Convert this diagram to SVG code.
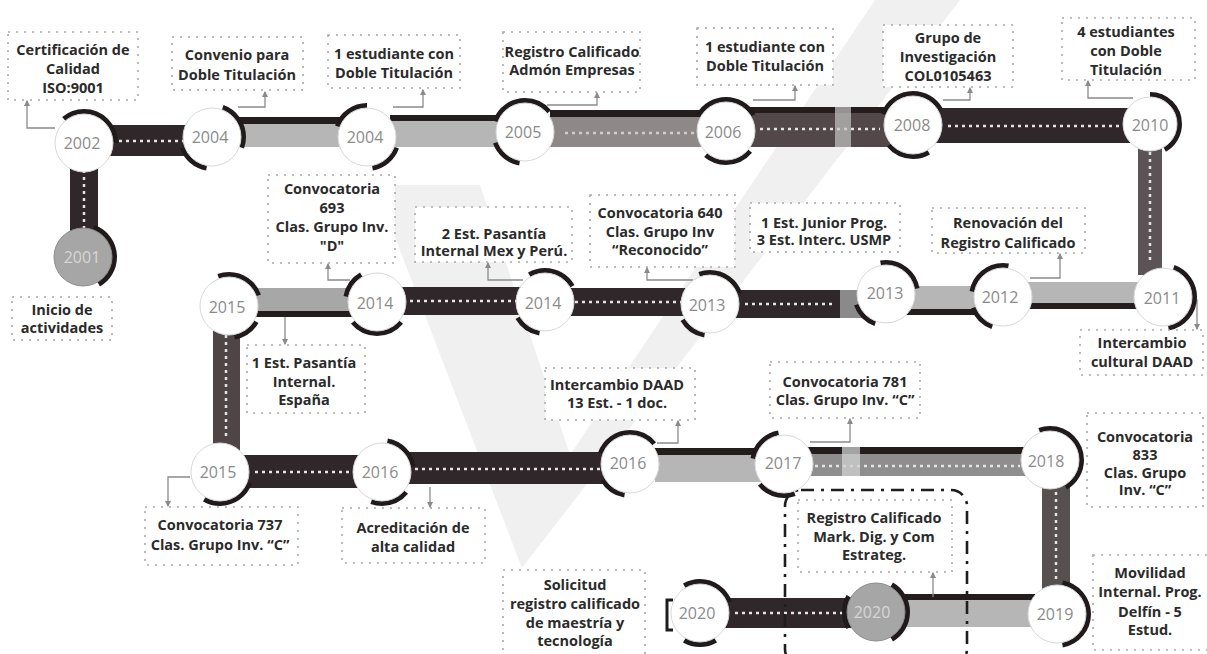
<svg xmlns="http://www.w3.org/2000/svg" width="1207" height="654" viewBox="0 0 1207 654">
<style>
.bg{fill:#ffffff}
.wm{fill:#f0f0f0}
.dark{fill:#2f2729}
.gray{fill:#b6b6b6}
.mid{fill:#8e8889}
.edge{fill:#231d1e}
.dots{stroke:#e4e4e4;stroke-width:2.5;stroke-dasharray:3 4;fill:none}
.dotsl{stroke:#cfcfcf;stroke-width:2.5;stroke-dasharray:3 4;fill:none}
.arc{fill:none;stroke:#201a1b;stroke-width:6}
.disc{fill:#ffffff;stroke:#d8d8d8;stroke-width:1}
.fdisc{fill:#a6a6a6;stroke:#8c8c8c;stroke-width:1}
.yr{font-family:"Open Sans","Liberation Sans",sans-serif;font-size:16px;fill:#8b8b8b;text-anchor:middle}
.yrl{font-family:"Open Sans","Liberation Sans",sans-serif;font-size:16px;fill:#d6d6d6;text-anchor:middle}
.box{fill:#ffffff;stroke:#a8a8a8;stroke-width:1.6;stroke-dasharray:2 6}
.t{font-family:"Open Sans","Liberation Sans",sans-serif;font-size:14.5px;font-weight:700;fill:#2b2b2b;text-anchor:middle}
.con{fill:none;stroke:#8a8a8a;stroke-width:1.3;marker-end:url(#tip)}
.dd{fill:none;stroke:#1e1e1e;stroke-width:2.6;stroke-dasharray:13 7 3 7}
</style>
<defs>
<marker id="tip" viewBox="0 0 6 6" refX="5" refY="3" markerWidth="5" markerHeight="5" orient="auto">
<path d="M0,0 L6,3 L0,6 z" fill="#8a8a8a"/>
</marker>
</defs>
<rect class="bg" x="0" y="0" width="1207" height="654"/>
<g id="watermark">
<polygon class="wm" points="375,185 480,185 575,470 522,568"/>
<polygon class="wm" points="522,568 560,470 875,0 960,0"/>
</g>
<g id="timeline-bars">
<rect class="dark" x="70" y="160" width="28" height="75"/>
<line class="dots" x1="84" y1="170" x2="84" y2="228"/>
<rect class="dark" x="100" y="125" width="105" height="31"/>
<line class="dots" x1="112" y1="141" x2="195" y2="141"/>
<rect class="edge" x="236" y="117" width="115" height="7"/>
<rect class="gray" x="236" y="124" width="115" height="23"/>
<rect class="edge" x="390" y="115" width="115" height="6"/>
<rect class="gray" x="390" y="121" width="115" height="26"/>
<rect class="edge" x="550" y="110" width="155" height="7"/>
<rect class="mid" x="550" y="117" width="155" height="30"/>
<line class="dotsl" x1="565" y1="133" x2="695" y2="133"/>
<rect class="edge" x="750" y="107" width="140" height="6"/>
<rect x="750" y="113" width="140" height="34" fill="#524849"/>
<line class="dots" x1="760" y1="129" x2="880" y2="129"/>
<rect x="835" y="107" width="16" height="40" fill="#c4c4c4" opacity="0.7"/>
<rect class="dark" x="935" y="108" width="195" height="35"/>
<line class="dots" x1="948" y1="126" x2="1120" y2="126"/>
<rect x="1138" y="140" width="24" height="135" fill="#5b5355"/>
<line class="dots" x1="1150" y1="152" x2="1150" y2="262"/>
<rect class="gray" x="1025" y="282" width="120" height="21"/>
<rect class="edge" x="1025" y="303" width="120" height="6"/>
<rect class="gray" x="905" y="286" width="82" height="23"/>
<rect class="edge" x="905" y="309" width="82" height="6"/>
<rect class="dark" x="730" y="290" width="135" height="28"/>
<rect x="840" y="290" width="22" height="28" fill="#8a8a8a"/>
<line class="dots" x1="745" y1="304" x2="835" y2="304"/>
<rect class="dark" x="565" y="288" width="125" height="28"/>
<line class="dots" x1="575" y1="302" x2="685" y2="302"/>
<rect class="dark" x="400" y="287" width="125" height="28"/>
<line class="dots" x1="410" y1="301" x2="520" y2="301"/>
<rect x="250" y="288" width="105" height="23" fill="#a7a7a7"/>
<rect class="edge" x="250" y="311" width="105" height="6"/>
<rect x="213" y="320" width="27" height="135" fill="#4f4547"/>
<line class="dots" x1="226" y1="335" x2="226" y2="440"/>
<rect class="dark" x="240" y="455" width="125" height="33"/>
<line class="dots" x1="255" y1="472" x2="355" y2="472"/>
<rect class="dark" x="400" y="452" width="210" height="32"/>
<line class="dots" x1="415" y1="469" x2="600" y2="469"/>
<rect class="edge" x="655" y="448" width="110" height="7"/>
<rect class="gray" x="655" y="455" width="110" height="27"/>
<rect class="edge" x="805" y="447" width="225" height="7"/>
<rect x="805" y="454" width="225" height="22" fill="#8e8e8e"/>
<line class="dots" x1="815" y1="466" x2="1020" y2="466"/>
<rect x="842" y="447" width="18" height="29" fill="#d0d0d0" opacity="0.75"/>
<rect x="1042" y="480" width="28" height="112" fill="#575051"/>
<line class="dots" x1="1056" y1="492" x2="1056" y2="580"/>
<rect class="edge" x="900" y="594" width="135" height="6"/>
<rect class="gray" x="900" y="600" width="135" height="27"/>
<rect class="dark" x="720" y="598" width="140" height="30"/>
<line class="dots" x1="735" y1="613" x2="850" y2="613"/>
</g>
<g id="connectors">
<polyline class="con" points="55,128 27,128 27,101"/>
<polyline class="con" points="238,107 265,107 265,92"/>
<polyline class="con" points="393,107 423,107 423,90"/>
<polyline class="con" points="547,105 597,105 597,93"/>
<polyline class="con" points="753,100 795,100 795,86"/>
<polyline class="con" points="943,100 970,100 970,88"/>
<polyline class="con" points="1133,98 1088,98 1088,81"/>
<polyline class="con" points="1030,278 1060,278 1060,254"/>
<polyline class="con" points="1190,300 1197,300 1197,329"/>
<polyline class="con" points="693,280 647,280 647,268"/>
<polyline class="con" points="523,280 488,280 488,263"/>
<polyline class="con" points="350,280 328,280 328,264"/>
<polyline class="con" points="285,317 285,344"/>
<polyline class="con" points="657,443 678,443 678,421"/>
<polyline class="con" points="810,442 850,442 850,419"/>
<polyline class="con" points="190,477 168,477 168,506"/>
<polyline class="con" points="430,487 430,507"/>
<polyline class="con" points="933,597 933,573"/>
<rect class="dd" x="785" y="490" width="182" height="175" rx="16"/>
<path d="M673,600 L667,600 L667,630 L673,630" fill="none" stroke="#1e1e1e" stroke-width="3"/>
</g>
<g id="y2001"><circle class="arc" cx="83" cy="257" r="31" pathLength="360" stroke-dasharray="130 230" stroke-dashoffset="70"/><circle class="fdisc" cx="83" cy="257" r="29"/><text class="yrl" x="82" y="263">2001</text></g>
<g id="y2002"><circle class="arc" cx="84" cy="143" r="31" pathLength="360" stroke-dasharray="130 230" stroke-dashoffset="130"/><circle class="disc" cx="84" cy="143" r="29"/><text class="yr" x="82" y="149">2002</text></g>
<g id="y2004a"><circle class="arc" cx="212" cy="137" r="31" pathLength="360" stroke-dasharray="90 80 60 130" stroke-dashoffset="70"/><circle class="disc" cx="212" cy="137" r="29"/><text class="yr" x="210" y="143">2004</text></g>
<g id="y2004b"><circle class="arc" cx="367" cy="137" r="31" pathLength="360" stroke-dasharray="60 120 70 110" stroke-dashoffset="340"/><circle class="disc" cx="367" cy="137" r="29"/><text class="yr" x="365" y="143">2004</text></g>
<g id="y2005"><circle class="arc" cx="525" cy="132" r="31" pathLength="360" stroke-dasharray="60 40 120 140" stroke-dashoffset="260"/><circle class="disc" cx="525" cy="132" r="29"/><text class="yr" x="523" y="138">2005</text></g>
<g id="y2006"><circle class="arc" cx="726" cy="131" r="31" pathLength="360" stroke-dasharray="90 80 120 70" stroke-dashoffset="320"/><circle class="disc" cx="726" cy="131" r="29"/><text class="yr" x="723" y="138">2006</text></g>
<g id="y2008"><circle class="arc" cx="913" cy="125" r="31" pathLength="360" stroke-dasharray="80 60 130 90" stroke-dashoffset="300"/><circle class="disc" cx="913" cy="125" r="29"/><text class="yr" x="912" y="131">2008</text></g>
<g id="y2010"><circle class="arc" cx="1150" cy="124" r="29" pathLength="360" stroke-dasharray="150 210" stroke-dashoffset="90"/><circle class="disc" cx="1150" cy="124" r="27"/><text class="yr" x="1150" y="131">2010</text></g>
<g id="y2011"><circle class="arc" cx="1163" cy="297" r="31" pathLength="360" stroke-dasharray="150 210" stroke-dashoffset="70"/><circle class="disc" cx="1163" cy="297" r="29"/><text class="yr" x="1162" y="304">2011</text></g>
<g id="y2012"><circle class="arc" cx="1003" cy="297" r="31" pathLength="360" stroke-dasharray="50 30 90 190" stroke-dashoffset="250"/><circle class="disc" cx="1003" cy="297" r="29"/><text class="yr" x="1000" y="303">2012</text></g>
<g id="y2013b"><circle class="arc" cx="886" cy="294" r="31" pathLength="360" stroke-dasharray="50 100 90 120" stroke-dashoffset="250"/><circle class="disc" cx="886" cy="294" r="29"/><text class="yr" x="885" y="299">2013</text></g>
<g id="y2013a"><circle class="arc" cx="710" cy="304" r="31" pathLength="360" stroke-dasharray="50 100 90 120" stroke-dashoffset="260"/><circle class="disc" cx="710" cy="304" r="29"/><text class="yr" x="707" y="311">2013</text></g>
<g id="y2014b"><circle class="arc" cx="545" cy="302" r="31" pathLength="360" stroke-dasharray="50 90 90 130" stroke-dashoffset="260"/><circle class="disc" cx="545" cy="302" r="29"/><text class="yr" x="543" y="309">2014</text></g>
<g id="y2014a"><circle class="arc" cx="377" cy="302" r="31" pathLength="360" stroke-dasharray="100 50 50 160" stroke-dashoffset="320"/><circle class="disc" cx="377" cy="302" r="29"/><text class="yr" x="375" y="309">2014</text></g>
<g id="y2015a"><circle class="arc" cx="229" cy="306" r="31" pathLength="360" stroke-dasharray="50 170 90 50" stroke-dashoffset="330"/><circle class="disc" cx="229" cy="306" r="29"/><text class="yr" x="227" y="313">2015</text></g>
<g id="y2015b"><circle class="arc" cx="220" cy="472" r="31" pathLength="360" stroke-dasharray="100 260" stroke-dashoffset="340"/><circle class="disc" cx="220" cy="472" r="29"/><text class="yr" x="218" y="478">2015</text></g>
<g id="y2016a"><circle class="arc" cx="382" cy="472" r="31" pathLength="360" stroke-dasharray="70 170 70 50" stroke-dashoffset="320"/><circle class="disc" cx="382" cy="472" r="29"/><text class="yr" x="380" y="478">2016</text></g>
<g id="y2016b"><circle class="arc" cx="630" cy="464" r="31" pathLength="360" stroke-dasharray="50 50 120 140" stroke-dashoffset="260"/><circle class="disc" cx="630" cy="464" r="29"/><text class="yr" x="628" y="469">2016</text></g>
<g id="y2017"><circle class="arc" cx="784" cy="464" r="31" pathLength="360" stroke-dasharray="70 50 70 170" stroke-dashoffset="290"/><circle class="disc" cx="784" cy="464" r="29"/><text class="yr" x="783" y="469">2017</text></g>
<g id="y2018"><circle class="arc" cx="1050" cy="460" r="31" pathLength="360" stroke-dasharray="170 190" stroke-dashoffset="110"/><circle class="disc" cx="1050" cy="460" r="29"/><text class="yr" x="1046" y="467">2018</text></g>
<g id="y2019"><circle class="arc" cx="1057" cy="614" r="31" pathLength="360" stroke-dasharray="160 200" stroke-dashoffset="80"/><circle class="disc" cx="1057" cy="614" r="29"/><text class="yr" x="1055" y="620">2019</text></g>
<g id="y2020b"><circle class="arc" cx="876" cy="612" r="31" pathLength="360" stroke-dasharray="60 90 120 90" stroke-dashoffset="210"/><circle class="fdisc" cx="876" cy="612" r="29"/><text class="yrl" x="872" y="618">2020</text></g>
<g id="y2020a"><circle class="arc" cx="700" cy="613" r="31" pathLength="360" stroke-dasharray="60 120 100 80" stroke-dashoffset="300"/><circle class="disc" cx="700" cy="613" r="29"/><text class="yr" x="697" y="619">2020</text></g>
<g id="b-cert"><rect class="box" x="8" y="32" width="130" height="68"/><text class="t" x="73" y="55">Certificación de</text><text class="t" x="73" y="74">Calidad</text><text class="t" x="73" y="93">ISO:9001</text></g>
<g id="b-convenio"><rect class="box" x="172" y="37" width="131" height="53"/><text class="t" x="237" y="60">Convenio para</text><text class="t" x="237" y="80">Doble Titulación</text></g>
<g id="b-est1"><rect class="box" x="328" y="35" width="132" height="53"/><text class="t" x="394" y="59">1 estudiante con</text><text class="t" x="394" y="78">Doble Titulación</text></g>
<g id="b-registro"><rect class="box" x="503" y="32" width="137" height="60"/><text class="t" x="572" y="57">Registro Calificado</text><text class="t" x="572" y="75">Admón Empresas</text></g>
<g id="b-est2"><rect class="box" x="697" y="28" width="136" height="57"/><text class="t" x="765" y="52">1 estudiante con</text><text class="t" x="765" y="71">Doble Titulación</text></g>
<g id="b-grupo"><rect class="box" x="883" y="25" width="130" height="62"/><text class="t" x="948" y="43">Grupo de</text><text class="t" x="948" y="62">Investigación</text><text class="t" x="948" y="81">COL0105463</text></g>
<g id="b-est4"><rect class="box" x="1062" y="18" width="133" height="62"/><text class="t" x="1126" y="37">4 estudiantes</text><text class="t" x="1126" y="56">con Doble</text><text class="t" x="1126" y="75">Titulación</text></g>
<g id="b-conv693"><rect class="box" x="268" y="175" width="127" height="88"/><text class="t" x="332" y="194">Convocatoria</text><text class="t" x="332" y="213">693</text><text class="t" x="332" y="232">Clas. Grupo Inv.</text><text class="t" x="332" y="251">"D"</text></g>
<g id="b-pasantia2"><rect class="box" x="415" y="207" width="157" height="55"/><text class="t" x="494" y="239">2 Est. Pasantía</text><text class="t" x="494" y="256">Internal Mex y Perú.</text></g>
<g id="b-conv640"><rect class="box" x="590" y="195" width="145" height="72"/><text class="t" x="660" y="218">Convocatoria 640</text><text class="t" x="660" y="237">Clas. Grupo Inv</text><text class="t" x="660" y="255">“Reconocido”</text></g>
<g id="b-junior"><rect class="box" x="750" y="203" width="150" height="49"/><text class="t" x="824" y="228">1 Est. Junior Prog.</text><text class="t" x="824" y="245">3 Est. Interc. USMP</text></g>
<g id="b-renovacion"><rect class="box" x="932" y="208" width="153" height="45"/><text class="t" x="1008" y="228">Renovación del</text><text class="t" x="1008" y="248">Registro Calificado</text></g>
<g id="b-inicio"><rect class="box" x="12" y="297" width="100" height="43"/><text class="t" x="62" y="315">Inicio de</text><text class="t" x="62" y="333">actividades</text></g>
<g id="b-cultural"><rect class="box" x="1080" y="330" width="123" height="45"/><text class="t" x="1142" y="348">Intercambio</text><text class="t" x="1142" y="367">cultural DAAD</text></g>
<g id="b-espana"><rect class="box" x="247" y="345" width="118" height="68"/><text class="t" x="304" y="368">1 Est. Pasantía</text><text class="t" x="304" y="387">Internal.</text><text class="t" x="304" y="405">España</text></g>
<g id="b-daad"><rect class="box" x="545" y="368" width="150" height="52"/><text class="t" x="617" y="390">Intercambio DAAD</text><text class="t" x="617" y="408">13 Est. - 1 doc.</text></g>
<g id="b-conv781"><rect class="box" x="770" y="362" width="150" height="56"/><text class="t" x="845" y="387">Convocatoria 781</text><text class="t" x="845" y="405">Clas. Grupo Inv. “C”</text></g>
<g id="b-conv737"><rect class="box" x="145" y="507" width="153" height="58"/><text class="t" x="220" y="530">Convocatoria 737</text><text class="t" x="220" y="550">Clas. Grupo Inv. “C”</text></g>
<g id="b-acreditacion"><rect class="box" x="342" y="508" width="143" height="55"/><text class="t" x="413" y="533">Acreditación de</text><text class="t" x="413" y="552">alta calidad</text></g>
<g id="b-conv833"><rect class="box" x="1087" y="413" width="116" height="94"/><text class="t" x="1145" y="442">Convocatoria</text><text class="t" x="1145" y="460">833</text><text class="t" x="1145" y="478">Clas. Grupo</text><text class="t" x="1145" y="495">Inv. “C”</text></g>
<g id="b-mark"><rect class="box" x="798" y="500" width="154" height="72"/><text class="t" x="874" y="523">Registro Calificado</text><text class="t" x="874" y="542">Mark. Dig. y Com</text><text class="t" x="874" y="560">Estrateg.</text></g>
<g id="b-solicitud"><rect class="box" x="503" y="570" width="142" height="90"/><text class="t" x="575" y="590">Solicitud</text><text class="t" x="575" y="609">registro calificado</text><text class="t" x="575" y="628">de maestría y</text><text class="t" x="575" y="646">tecnología</text></g>
<g id="b-movilidad"><rect class="box" x="1093" y="555" width="118" height="95"/><text class="t" x="1150" y="578">Movilidad</text><text class="t" x="1150" y="597">Internal. Prog.</text><text class="t" x="1150" y="617">Delfín - 5</text><text class="t" x="1150" y="635">Estud.</text></g>
</svg>
